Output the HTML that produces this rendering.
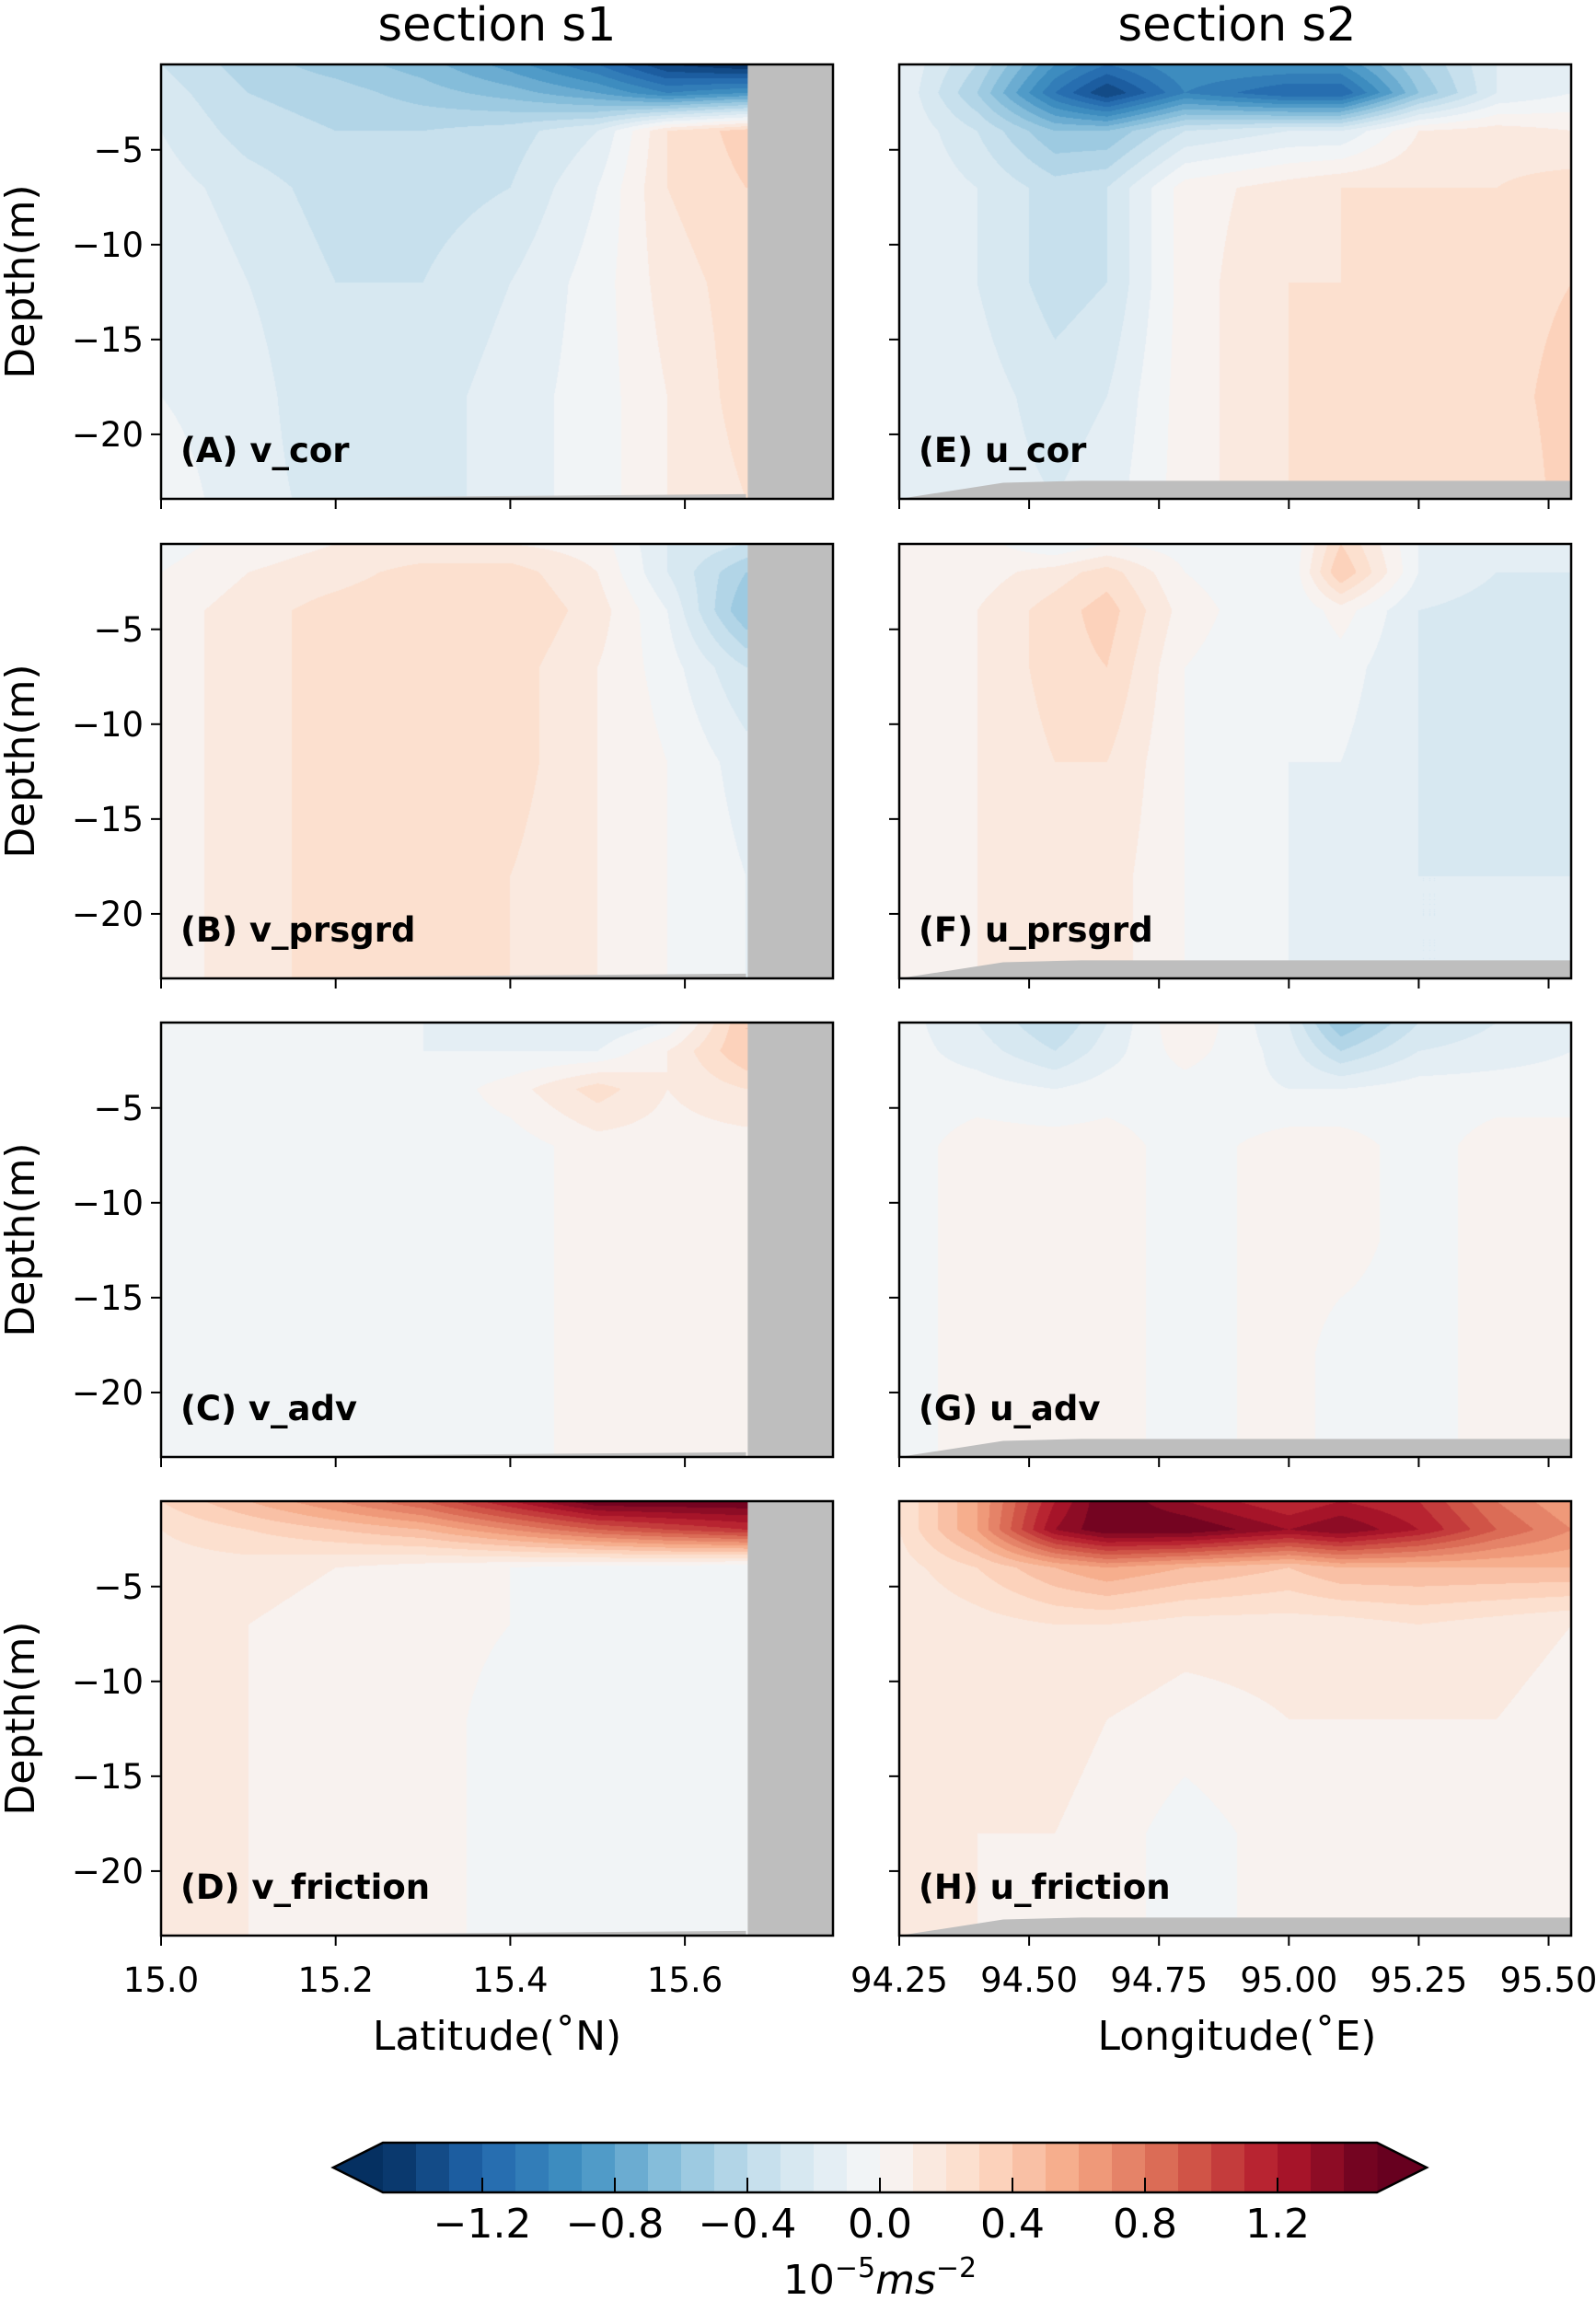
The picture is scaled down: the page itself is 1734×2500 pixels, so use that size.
<!DOCTYPE html>
<html><head><meta charset="utf-8">
<style>
html,body{margin:0;padding:0;background:#fff;}
#wrap{position:relative;width:1734px;height:2500px;overflow:hidden;font-family:"DejaVu Sans","Liberation Sans",sans-serif;}
canvas{position:absolute;}
svg{position:absolute;left:0;top:0;}
</style></head>
<body>
<div id="wrap">
<svg id="ov" width="1734" height="2500"></svg>
</div>
<script>
// ---- data ----
const depths=[-0.5,-2,-4,-7,-12,-18,-23.4];
const latCols=[15.0,15.1,15.2,15.3,15.4,15.5,15.58,15.67];
const lonCols=[94.25,94.4,94.55,94.65,94.8,95.0,95.1,95.25,95.4,95.545];
const latTicks=[15.0,15.2,15.4,15.6];
const latTickLabels=["15.0","15.2","15.4","15.6"];
const lonTicks=[94.25,94.5,94.75,95.0,95.25,95.5];
const lonTickLabels=["94.25","94.50","94.75","95.00","95.25","95.50"];
const depthTicks=[-5,-10,-15,-20];
const depthTickLabels=["\u22125","\u221210","\u221215","\u221220"];
const cbTicks=[-1.2,-0.8,-0.4,0.0,0.4,0.8,1.2];
const cbTickLabels=["\u22121.2","\u22120.8","\u22120.4","0.0","0.4","0.8","1.2"];
const levelsMin=-1.5, levelsStep=0.1, nLevels=30;
const vCor=[
[-0.3,-0.45,-0.55,-0.65,-0.85,-1.1,-1.4,-1.5],
[-0.25,-0.4,-0.45,-0.55,-0.65,-0.8,-1.0,-0.9],
[-0.2,-0.35,-0.4,-0.4,-0.35,-0.2,0.2,0.35],
[-0.15,-0.25,-0.35,-0.35,-0.3,-0.1,0.2,0.3],
[-0.1,-0.2,-0.3,-0.3,-0.2,-0.05,0.15,0.25],
[-0.1,-0.15,-0.3,-0.25,-0.15,-0.05,0.1,0.25],
[-0.05,-0.15,-0.25,-0.25,-0.15,-0.05,0.1,0.2]];
const vPrsgrd=[
[-0.05,0.05,0.1,0.1,0.1,0.05,-0.2,-0.3],
[0.0,0.1,0.15,0.25,0.25,0.1,-0.2,-0.5],
[0.05,0.15,0.25,0.3,0.3,0.15,-0.1,-0.6],
[0.05,0.15,0.25,0.3,0.25,0.1,-0.05,-0.3],
[0.05,0.15,0.25,0.3,0.25,0.1,0.0,-0.15],
[0.05,0.15,0.25,0.3,0.2,0.1,0.0,-0.1],
[0.05,0.15,0.25,0.3,0.2,0.1,0.0,-0.1]];
const vAdv=[
[-0.05,-0.05,-0.05,-0.1,-0.15,-0.2,-0.1,0.4],
[-0.05,-0.05,-0.05,-0.1,-0.1,-0.1,0.1,0.4],
[-0.05,-0.05,-0.05,-0.08,0.05,0.25,0.1,0.2],
[-0.05,-0.05,-0.05,-0.05,-0.05,0.05,0.05,0.05],
[-0.05,-0.05,-0.05,-0.05,-0.05,0.05,0.05,0.05],
[-0.05,-0.05,-0.05,-0.05,-0.05,0.05,0.05,0.05],
[-0.05,-0.05,-0.05,-0.05,-0.05,0.05,0.05,0.05]];
const vFriction=[
[0.3,0.5,0.7,0.9,1.2,1.5,1.5,1.5],
[0.2,0.3,0.4,0.5,0.7,0.9,1.0,1.1],
[0.15,0.15,0.1,0.05,0.0,-0.05,-0.05,-0.1],
[0.15,0.1,0.05,0.05,0.0,-0.05,-0.05,-0.05],
[0.1,0.1,0.08,0.05,-0.05,-0.05,-0.05,-0.05],
[0.1,0.1,0.08,0.05,-0.05,-0.05,-0.05,-0.05],
[0.1,0.1,0.08,0.05,-0.05,-0.05,-0.05,-0.05]];
const uCor=[
[-0.1,-0.4,-0.9,-1.1,-0.9,-0.9,-0.9,-0.5,-0.2,-0.1],
[-0.1,-0.5,-1.1,-1.4,-1.0,-1.2,-1.2,-0.6,-0.2,-0.1],
[-0.1,-0.3,-0.6,-0.6,-0.3,-0.2,-0.2,0.1,0.15,0.1],
[-0.1,-0.2,-0.35,-0.3,0.05,0.15,0.2,0.2,0.2,0.25],
[-0.1,-0.2,-0.35,-0.3,0.05,0.2,0.2,0.2,0.25,0.3],
[-0.1,-0.15,-0.25,-0.2,0.05,0.2,0.2,0.2,0.25,0.35],
[-0.1,-0.15,-0.2,-0.15,0.05,0.2,0.2,0.2,0.2,0.35]];
const uPrsgrd=[
[0.0,0.05,-0.1,0.0,-0.05,-0.1,0.3,-0.1,-0.2,-0.2],
[0.0,0.05,0.15,0.25,0.0,-0.1,0.4,-0.1,-0.2,-0.2],
[0.05,0.1,0.25,0.35,0.05,-0.1,0.05,-0.2,-0.25,-0.2],
[0.05,0.1,0.25,0.3,0.0,-0.1,-0.05,-0.2,-0.3,-0.25],
[0.05,0.1,0.2,0.2,0.0,-0.1,-0.1,-0.2,-0.3,-0.25],
[0.05,0.1,0.15,0.15,0.0,-0.1,-0.15,-0.2,-0.2,-0.2],
[0.05,0.1,0.15,0.15,0.0,-0.1,-0.15,-0.2,-0.2,-0.2]];
const uAdv=[
[-0.05,-0.2,-0.4,-0.2,0.1,-0.2,-0.6,-0.3,-0.2,-0.1],
[-0.05,-0.15,-0.3,-0.15,0.05,-0.15,-0.4,-0.2,-0.15,-0.1],
[-0.05,-0.05,-0.1,-0.05,-0.05,-0.1,-0.1,-0.05,-0.05,-0.05],
[-0.05,0.05,0.05,0.05,-0.05,0.05,0.05,-0.05,0.05,0.05],
[-0.05,0.05,0.05,0.05,-0.05,0.05,0.05,-0.05,0.05,0.05],
[-0.05,0.05,0.05,0.05,-0.05,0.05,-0.05,-0.05,0.05,0.05],
[-0.05,0.05,0.05,0.05,-0.05,0.05,-0.05,-0.05,0.05,0.05]];
const uFriction=[
[0.2,0.6,1.2,1.5,1.3,1.1,1.2,1.1,0.8,0.6],
[0.2,0.6,1.3,1.5,1.5,1.3,1.4,1.2,0.9,0.7],
[0.15,0.3,0.5,0.6,0.5,0.4,0.5,0.5,0.5,0.5],
[0.1,0.15,0.2,0.2,0.15,0.15,0.15,0.2,0.15,0.1],
[0.1,0.15,0.15,0.1,0.05,0.1,0.1,0.1,0.1,0.05],
[0.1,0.1,0.1,0.05,-0.05,0.05,0.05,0.05,0.05,0.05],
[0.15,0.1,0.05,0.05,-0.05,0.05,0.05,0.05,0.05,0.05]];
const landLatStart=15.672;
const bottomLeftLat=[15.0,15.67],bottomLeftDepth=[-23.4,-23.15];
const bottomRightLon=[94.25,94.45,94.6,95.545],bottomRightDepth=[-23.4,-22.55,-22.45,-22.45];

// ---- layout ----
const PW=730,PH=472,LX=175,RX=977,ROWS=[70,591,1111,1631];
const D_TOP=-0.5,D_BOT=-23.4;
function ys(d,top){return top+(D_TOP-d)/(D_TOP-D_BOT)*PH;}
function xLat(v){return LX+(v-15.0)/0.2*189.7;}
function xLon(v){return RX+(v-94.25)/0.25*141.1;}
function invLat(px){return 15.0+(px-LX)/189.7*0.2;}
function invLon(px){return 94.25+(px-RX)/141.1*0.25;}

const anchors=["#053061","#2166ac","#4393c3","#92c5de","#d1e5f0","#f7f7f7","#fddbc7","#f4a582","#d6604d","#b2182b","#67001f"].map(h=>[parseInt(h.substr(1,2),16),parseInt(h.substr(3,2),16),parseInt(h.substr(5,2),16)]);
function cmap(t){t=Math.max(0,Math.min(1,t));const f=t*10,i=Math.min(9,Math.floor(f)),r=f-i;const a=anchors[i],b=anchors[i+1];return [0,1,2].map(k=>Math.round(a[k]+(b[k]-a[k])*r));}
const binColors=[];for(let i=0;i<nLevels;i++)binColors.push(cmap((i+0.5)/nLevels));
function colorFor(v){let i=Math.floor((v-levelsMin)/levelsStep);i=Math.max(0,Math.min(nLevels-1,i));return binColors[i];}

function findIdx(arr,v,desc){
  const n=arr.length;
  for(let i=0;i<n-1;i++){const a=arr[i],b=arr[i+1];const lo=Math.min(a,b),hi=Math.max(a,b);
    if(v>=lo&&v<=hi){return [i,(v-a)/(b-a)];}}
  if(desc?v>arr[0]:v<arr[0])return [0,0];
  return [n-2,1];
}
const ov=document.getElementById('ov');
const NS="http://www.w3.org/2000/svg";
function el(tag,attrs,parent){const e=document.createElementNS(NS,tag);for(const k in attrs)e.setAttribute(k,attrs[k]);(parent||ov).appendChild(e);return e;}

function drawField(grid,cols,inv,x0,top,name){
  const c=document.createElement('canvas');c.width=PW;c.height=PH;
  c.style.left=x0+'px';c.style.top=top+'px';
  
  
  document.getElementById('wrap').insertBefore(c,ov);
  const ctx=c.getContext('2d');const img=ctx.createImageData(PW,PH);
  const colIdx=[];for(let px=0;px<PW;px++)colIdx.push(findIdx(cols,inv(x0+px+0.5),false));
  for(let py=0;py<PH;py++){
    const d=D_TOP-(py+0.5)/PH*(D_TOP-D_BOT);
    const [ri,rf]=findIdx(depths,d,true);
    for(let px=0;px<PW;px++){
      const [ci,cf]=colIdx[px];
      const v=(grid[ri][ci]*(1-cf)+grid[ri][ci+1]*cf)*(1-rf)+(grid[ri+1][ci]*(1-cf)+grid[ri+1][ci+1]*cf)*rf;
      const col=colorFor(v);const o=(py*PW+px)*4;
      img.data[o]=col[0];img.data[o+1]=col[1];img.data[o+2]=col[2];img.data[o+3]=255;
    }}
  ctx.putImageData(img,0,0);
}
const panels=[
 {g:vCor,side:'L',row:0,lab:"(A) v_cor",n:"panel-a-v-cor"},
 {g:vPrsgrd,side:'L',row:1,lab:"(B) v_prsgrd",n:"panel-b-v-prsgrd"},
 {g:vAdv,side:'L',row:2,lab:"(C) v_adv",n:"panel-c-v-adv"},
 {g:vFriction,side:'L',row:3,lab:"(D) v_friction",n:"panel-d-v-friction"},
 {g:uCor,side:'R',row:0,lab:"(E) u_cor",n:"panel-e-u-cor"},
 {g:uPrsgrd,side:'R',row:1,lab:"(F) u_prsgrd",n:"panel-f-u-prsgrd"},
 {g:uAdv,side:'R',row:2,lab:"(G) u_adv",n:"panel-g-u-adv"},
 {g:uFriction,side:'R',row:3,lab:"(H) u_friction",n:"panel-h-u-friction"}];
const TF='font-family:"DejaVu Sans","Liberation Sans",sans-serif;';
panels.forEach(p=>{
  const top=ROWS[p.row];const L=p.side==='L';const x0=L?LX:RX;
  drawField(p.g,L?latCols:lonCols,L?invLat:invLon,x0,top,p.n+'-field');
  const g=el('g',{});
  
  
  const bot=top+PH;
  if(L){
    const lx=xLat(landLatStart);
    const land=el('rect',{x:lx,y:top,width:x0+PW-lx,height:PH,fill:'#bebebe'},g);
    
    
    let pts=`${xLat(bottomLeftLat[0])},${bot} `;
    for(let i=0;i<bottomLeftLat.length;i++)pts+=`${xLat(bottomLeftLat[i])},${ys(bottomLeftDepth[i],top)} `;
    pts+=`${xLat(bottomLeftLat[bottomLeftLat.length-1])},${bot}`;
    const b=el('polygon',{points:pts,fill:'#bebebe'},g);
    
    
  } else {
    let pts=`${xLon(bottomRightLon[0])},${bot} `;
    for(let i=0;i<bottomRightLon.length;i++)pts+=`${Math.min(x0+PW,xLon(bottomRightLon[i]))},${ys(bottomRightDepth[i],top)} `;
    pts+=`${x0+PW},${bot}`;
    const b=el('polygon',{points:pts,fill:'#bebebe'},g);
    
    
  }
  el('rect',{x:x0,y:top,width:PW,height:PH,fill:'none',stroke:'#000','stroke-width':2.5},g);
  depthTicks.forEach((d,i)=>{const y=ys(d,top);
    el('line',{x1:x0-11,x2:x0,y1:y,y2:y,stroke:'#000','stroke-width':2},g);
    if(L){const t=el('text',{x:x0-19,y:y+13,'text-anchor':'end','font-size':37,style:TF},g);t.textContent=depthTickLabels[i];
      
      }
  });
  const xt=L?latTicks:lonTicks,xl=L?latTickLabels:lonTickLabels,xf=L?xLat:xLon;
  xt.forEach((v,i)=>{const x=xf(v);
    el('line',{x1:x,x2:x,y1:bot,y2:bot+11,stroke:'#000','stroke-width':2},g);
    if(p.row===3){const t=el('text',{x:x,y:bot+61,'text-anchor':'middle','font-size':37,style:TF},g);t.textContent=xl[i];
      
      }
  });
  const lt=el('text',{x:x0+21,y:top+432,'font-size':37,'font-weight':'bold',style:TF},g);lt.textContent=p.lab;
  
  
  if(L){const yl=el('text',{x:0,y:0,'text-anchor':'middle','font-size':44,style:TF,transform:`translate(37,${top+PH/2}) rotate(-90)`},g);yl.textContent="Depth(m)";
    
    }
});
[["section s1",540,"section-s1-title"],["section s2",1344,"section-s2-title"]].forEach(a=>{
  const t=el('text',{x:a[1],y:44,'text-anchor':'middle','font-size':51,style:TF});t.textContent=a[0];
  
  });
[["Latitude(\u02daN)",540,"x-axis-title-latitude"],["Longitude(\u02daE)",1344,"x-axis-title-longitude"]].forEach(a=>{
  const t=el('text',{x:a[1],y:2227,'text-anchor':'middle','font-size':44,style:TF});t.textContent=a[0];
  
  });
const CB0=416,CB1=1496,CBT=2328,CBB=2382;
function cbx(v){return CB0+(v-levelsMin)/(levelsStep*nLevels)*(CB1-CB0);}
const cg=el('g',{});


const lt1=el('polygon',{points:`${CB0},${CBT} ${362},${(CBT+CBB)/2} ${CB0},${CBB}`,fill:'#053061'},cg);


const rt1=el('polygon',{points:`${CB1},${CBT} ${1550},${(CBT+CBB)/2} ${CB1},${CBB}`,fill:'#67001f'},cg);


for(let i=0;i<nLevels;i++){const v=levelsMin+i*levelsStep;const c=binColors[i];
  const r=el('rect',{x:cbx(v),y:CBT,width:cbx(v+levelsStep)-cbx(v)+0.6,height:CBB-CBT,fill:`rgb(${c[0]},${c[1]},${c[2]})`},cg);
  
  }
el('polygon',{points:`${CB0},${CBT} ${CB1},${CBT} 1550,${(CBT+CBB)/2} ${CB1},${CBB} ${CB0},${CBB} 362,${(CBT+CBB)/2}`,fill:'none',stroke:'#000','stroke-width':2.5},cg);
cbTicks.forEach((v,i)=>{const x=cbx(v);
  el('line',{x1:x,x2:x,y1:CBB-16,y2:CBB,stroke:'#000','stroke-width':2},cg);
  const t=el('text',{x:x,y:2431,'text-anchor':'middle','font-size':44,style:TF},cg);t.textContent=cbTickLabels[i];
  
  });
const ct=el('text',{x:956,y:2492,'text-anchor':'middle','font-size':44,style:TF},cg);


ct.innerHTML='10<tspan dy="-18" font-size="30">\u22125</tspan><tspan dy="18" font-style="italic">ms</tspan><tspan dy="-18" font-size="30">\u22122</tspan>';
</script>
</body></html>
